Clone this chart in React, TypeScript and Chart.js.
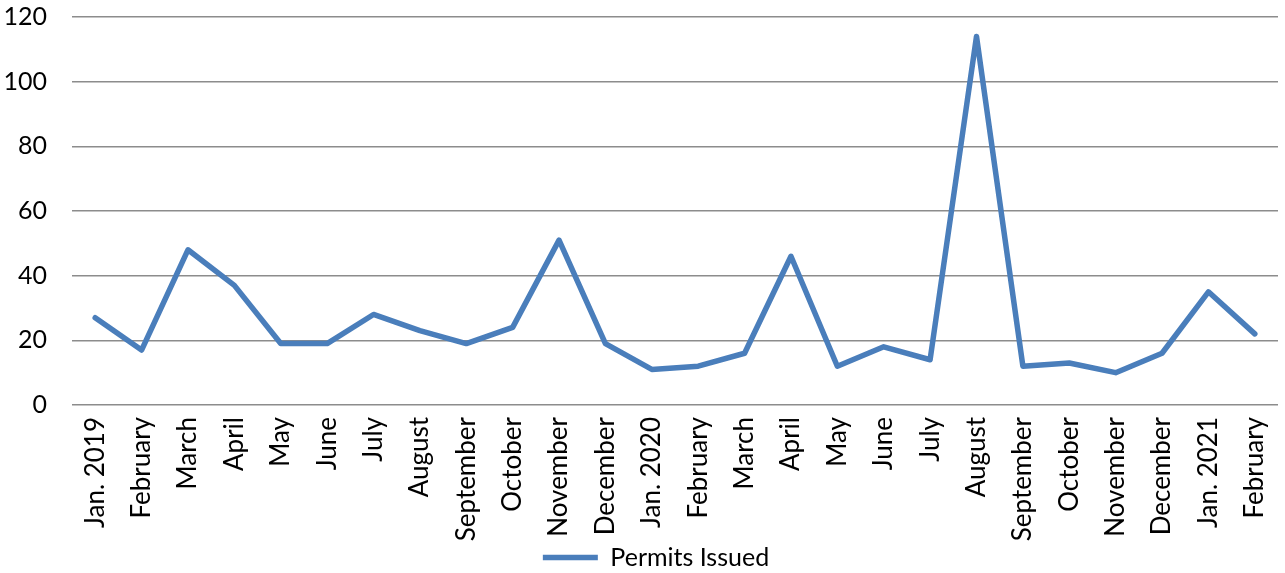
import React, { useEffect, useRef } from "react";
import { Chart, registerables } from "chart.js";

Chart.register(...registerables);

// Monthly permit counts, Jan. 2019 – Feb. 2021
const months: string[] = [
  "Jan. 2019", "February", "March", "April", "May", "June", "July", "August",
  "September", "October", "November", "December",
  "Jan. 2020", "February", "March", "April", "May", "June", "July", "August",
  "September", "October", "November", "December",
  "Jan. 2021", "February",
];

const permitsIssued: number[] = [
  27, 17, 48, 37, 19, 19, 28, 23, 19, 24, 51, 19,
  11, 12, 16, 46, 12, 18, 14, 114, 12, 13, 10, 16,
  35, 22,
];

const seriesLabel = "Permits Issued";
const yMin = 0;
const yMax = 120;
const yStep = 20;

const FONT = "Lato, 'Open Sans', sans-serif";
const LINE_BLUE = "#4a7ebb";
const GRID_GRAY = "#8c8c8c";

// Nudges the bottom legend a little to the right of the canvas centre.
const legendShift = {
  id: "legendShift",
  afterLayout(chart: any) {
    const lg = chart.legend;
    if (!lg) return;
    lg.left += 17;
    lg.right += 17;
  },
};

export default function App() {
  const canvasRef = useRef<HTMLCanvasElement | null>(null);

  useEffect(() => {
    const canvas = canvasRef.current;
    if (!canvas) return;
    const chart = new Chart(canvas, {
      type: "line",
      data: {
        labels: months,
        datasets: [
          {
            label: seriesLabel,
            data: permitsIssued,
            borderColor: LINE_BLUE,
            backgroundColor: LINE_BLUE,
            borderWidth: 5.5,
            borderJoinStyle: "round",
            borderCapStyle: "round",
            pointRadius: 0,
            pointHoverRadius: 0,
            tension: 0,
            fill: false,
          },
        ],
      },
      plugins: [legendShift],
      options: {
        responsive: false,
        animation: false,
        layout: { padding: { left: 0, right: 7, top: 17, bottom: -7 } },
        plugins: {
          tooltip: { enabled: false },
          legend: {
            position: "bottom",
            labels: {
              usePointStyle: true,
              pointStyle: "line",
              pointStyleWidth: 55,
              padding: 0,
              color: "#000",
              font: { family: FONT, size: 25 },
            },
          },
        },
        scales: {
          x: {
            offset: true,
            grid: { display: false, drawTicks: false },
            border: { display: false },
            ticks: {
              autoSkip: false,
              minRotation: 90,
              maxRotation: 90,
              padding: 12,
              color: "#000",
              font: { family: FONT, size: 26 },
            },
            afterFit: (scale: any) => {
              scale.height = 140;
              scale.paddingLeft = 0;
              scale.paddingRight = 0;
            },
          },
          y: {
            min: yMin,
            max: yMax,
            grid: { color: GRID_GRAY, lineWidth: 1.5, drawTicks: false },
            border: { display: false },
            ticks: {
              stepSize: yStep,
              padding: 25,
              color: "#000",
              font: { family: FONT, size: 25 },
            },
            afterFit: (scale: any) => {
              scale.width = 72;
              scale.paddingTop = 0;
              scale.paddingBottom = 0;
            },
          },
        },
      },
    });
    return () => chart.destroy();
  }, []);

  return (
    <div style={{ position: "absolute", left: 0, top: 0, width: 1285, height: 573, background: "#fff" }}>
      <canvas ref={canvasRef} width={1285} height={573} style={{ display: "block" }} />
    </div>
  );
}
